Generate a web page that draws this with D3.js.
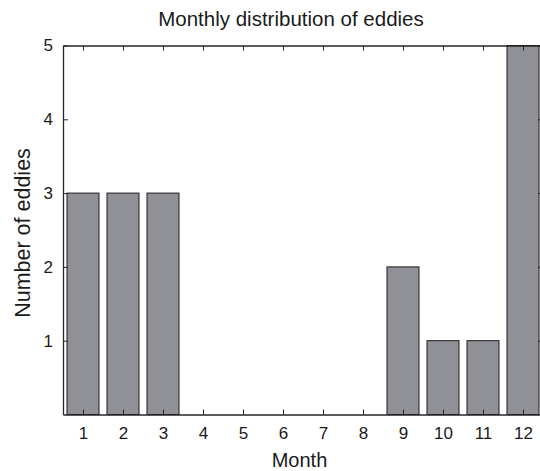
<!DOCTYPE html>
<html>
<head>
<meta charset="utf-8">
<script src="https://cdn.jsdelivr.net/npm/d3@7.9.0/dist/d3.min.js"></script>
<style>
  body { margin: 0; background: #fff; }
  svg { display: block; font-family: "Liberation Sans", Arial, sans-serif; }
  .axis path, .axis line { stroke: #262626; }
  .axis text { fill: #1a1a1a; font-size: 17px; }
</style>
</head>
<body>
<div id="chart"></div>
<script>
const months = [1, 2, 3, 4, 5, 6, 7, 8, 9, 10, 11, 12];
const eddies = [3, 3, 3, 0, 0, 0, 0, 0, 2, 1, 1, 5];
const yTicks = [1, 2, 3, 4, 5];

const width = 540;
const height = 471;
const margin = { top: 45.5, right: -3, bottom: 56.5, left: 63 };

const svg = d3.select('#chart')
  .append('svg')
  .attr('width', width)
  .attr('height', height);

const x = d3.scaleLinear()
  .domain([0.5, 12.5])
  .range([margin.left, width - margin.right]);

const y = d3.scaleLinear()
  .domain([0, 5])
  .range([height - margin.bottom, margin.top]);

const barW = (x(1) - x(0)) * 0.8;

// bars
svg.append('g')
  .selectAll('rect')
  .data(months)
  .join('rect')
  .attr('x', (d) => x(d) - barW / 2)
  .attr('y', (d, i) => y(eddies[i]))
  .attr('width', barW)
  .attr('height', (d, i) => y(0) - y(eddies[i]))
  .attr('fill', '#909196')
  .attr('stroke', '#1a1a1a')
  .attr('stroke-width', 1);

// axes, ticks inward
svg.append('g')
  .attr('class', 'axis')
  .attr('transform', `translate(0,${y(0)})`)
  .call(d3.axisBottom(x).tickValues(months).tickSize(-5).tickSizeOuter(0).tickPadding(12))
  .call((g) => g.select('.domain').attr('stroke-width', 1.3));

svg.append('g')
  .attr('class', 'axis')
  .attr('transform', `translate(0,${y(5)})`)
  .call(d3.axisTop(x).tickValues(months).tickSize(-5).tickSizeOuter(0).tickFormat(''))
  .call((g) => g.select('.domain').attr('stroke-width', 1.3));

svg.append('g')
  .attr('class', 'axis')
  .attr('transform', `translate(${x(0.5)},0)`)
  .call(d3.axisLeft(y).tickValues(yTicks).tickFormat(d3.format('d')).tickSize(-5).tickSizeOuter(0).tickPadding(10))
  .call((g) => g.select('.domain').attr('stroke-width', 1.3));

svg.append('g')
  .attr('class', 'axis')
  .attr('transform', `translate(${x(12.5)},0)`)
  .call(d3.axisRight(y).tickValues(yTicks).tickSize(-5).tickSizeOuter(0).tickFormat(''))
  .call((g) => g.select('.domain').attr('stroke-width', 1.3));

// labels
svg.append('text')
  .attr('x', 291)
  .attr('y', 25.5)
  .attr('text-anchor', 'middle')
  .attr('font-size', 20.5)
  .attr('fill', '#1a1a1a')
  .text('Monthly distribution of eddies');

svg.append('text')
  .attr('x', 299.5)
  .attr('y', 466.5)
  .attr('text-anchor', 'middle')
  .attr('font-size', 20)
  .attr('fill', '#1a1a1a')
  .text('Month');

svg.append('text')
  .attr('transform', 'translate(30,233) rotate(-90)')
  .attr('text-anchor', 'middle')
  .attr('font-size', 21.5)
  .attr('fill', '#1a1a1a')
  .text('Number of eddies');
</script>
</body>
</html>
